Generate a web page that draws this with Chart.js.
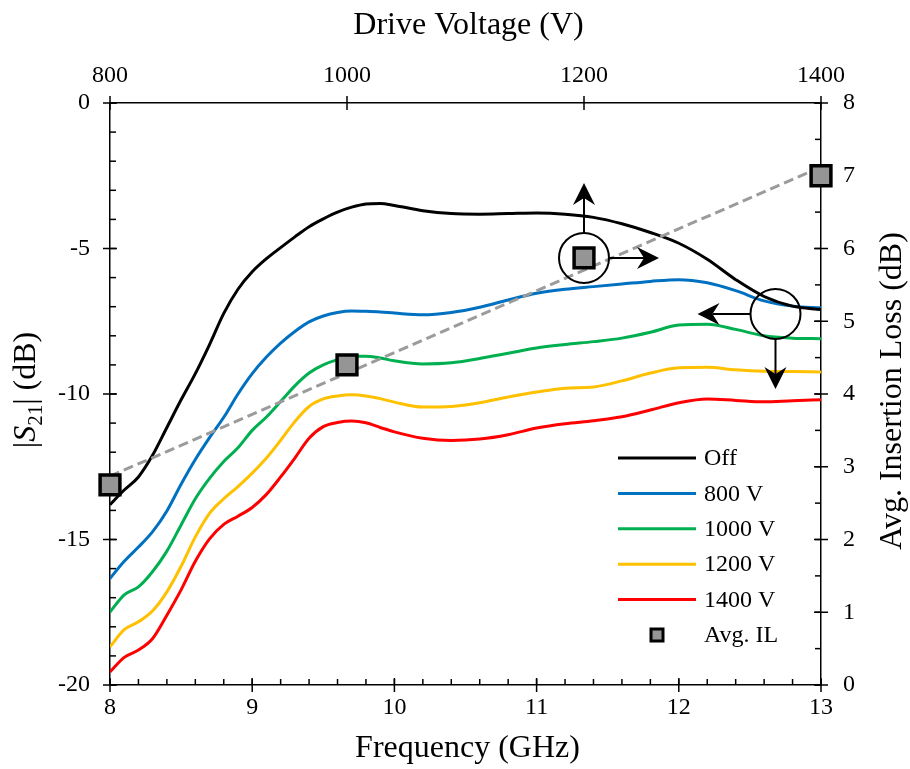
<!DOCTYPE html>
<html>
<head>
<meta charset="utf-8">
<script src="https://cdn.jsdelivr.net/npm/chart.js@4.4.1/dist/chart.umd.min.js"></script>
<style>
  html, body { margin: 0; padding: 0; background: #fff; }
  canvas { display: block; }
</style>
</head>
<body>
<canvas id="chart" width="910" height="769"></canvas>
<script>
// Frequency sweep (GHz) shared by all |S21| traces
const freqGHz = [8.0, 8.1, 8.2, 8.3, 8.4, 8.5, 8.6, 8.7, 8.8, 8.9, 9.0, 9.1, 9.2, 9.3, 9.4,
  9.5, 9.6, 9.7, 9.8, 9.9, 10.0, 10.2, 10.4, 10.6, 10.8, 11.0, 11.2, 11.4, 11.6, 11.8,
  12.0, 12.2, 12.4, 12.6, 12.8, 13.0];

// |S21| in dB for each drive state
const s21Off = [-13.8, -13.3, -12.85, -12.1, -11.15, -10.2, -9.3, -8.3, -7.23, -6.4, -5.8,
  -5.35, -4.97, -4.6, -4.25, -3.98, -3.75, -3.58, -3.47, -3.45, -3.52, -3.7, -3.8, -3.82,
  -3.8, -3.78, -3.82, -3.93, -4.15, -4.45, -4.82, -5.37, -6.07, -6.65, -6.98, -7.1];
const s21V800 = [-16.34, -15.75, -15.26, -14.73, -14.02, -13.1, -12.25, -11.5, -10.8, -10.0,
  -9.3, -8.73, -8.25, -7.85, -7.52, -7.32, -7.2, -7.15, -7.16, -7.18, -7.22, -7.28, -7.2,
  -7.02, -6.77, -6.54, -6.4, -6.31, -6.22, -6.13, -6.07, -6.18, -6.45, -6.8, -6.98, -7.04];
const s21V1000 = [-17.49, -16.9, -16.63, -16.1, -15.4, -14.5, -13.6, -12.9, -12.32, -11.85,
  -11.25, -10.79, -10.26, -9.72, -9.28, -9.0, -8.82, -8.7, -8.7, -8.76, -8.86, -8.97, -8.93,
  -8.78, -8.6, -8.42, -8.3, -8.2, -8.08, -7.88, -7.63, -7.6, -7.78, -8.0, -8.08, -8.1];
const s21V1200 = [-18.69, -18.1, -17.83, -17.45, -16.8, -15.92, -14.91, -14.1, -13.6, -13.18,
  -12.72, -12.2, -11.59, -10.95, -10.43, -10.17, -10.07, -10.03, -10.07, -10.16, -10.28,
  -10.45, -10.43, -10.3, -10.1, -9.93, -9.8, -9.76, -9.55, -9.28, -9.1, -9.08, -9.17,
  -9.22, -9.23, -9.24];
const s21V1400 = [-19.55, -19.05, -18.8, -18.4, -17.6, -16.73, -15.75, -14.98, -14.48, -14.2,
  -13.9, -13.45, -12.85, -12.2, -11.52, -11.12, -10.98, -10.93, -10.99, -11.15, -11.3,
  -11.52, -11.6, -11.55, -11.4, -11.17, -11.02, -10.92, -10.78, -10.55, -10.3, -10.17,
  -10.22, -10.27, -10.23, -10.2];

const seriesNames = ['Off', '800 V', '1000 V', '1200 V', '1400 V'];
const seriesValues = [s21Off, s21V800, s21V1000, s21V1200, s21V1400];

// Average insertion loss versus drive voltage, with its straight-line fit
const driveVoltage = [800, 1000, 1200, 1400];
const avgIL = [2.75, 4.4, 5.87, 7.0];
const ilFitVoltage = [800, 1400];
const ilFitValue = [2.87, 7.12];

// Axis tick labels
const freqTicks = [8, 9, 10, 11, 12, 13];
const s21Ticks = [0, -5, -10, -15, -20];
const voltTicks = [800, 1000, 1200, 1400];
const ilTicks = [0, 1, 2, 3, 4, 5, 6, 7, 8];

// Marker for the state-switch callout on the |S21| plane
const switchCallout = { freq: 12.68, s21: -7.25 };

// ---- styling ----
const SERIF = '"Liberation Serif", "Times New Roman", serif';
const lineColors = ['#000000', '#0070C0', '#00B050', '#FFC000', '#FF0000'];
const markerFill = '#959595';
const fitColor = '#9b9b9b';

const xy = (xs, ys) => xs.map((v, i) => ({ x: v, y: ys[i] }));

const datasets = seriesValues.map((vals, i) => ({
  label: seriesNames[i],
  data: xy(freqGHz, vals),
  xAxisID: 'x', yAxisID: 'y',
  borderColor: lineColors[i],
  borderWidth: 3,
  pointRadius: 0,
  cubicInterpolationMode: 'monotone',
  fill: false,
  order: 2 + i
}));
datasets.push({
  label: 'IL fit',
  data: xy(ilFitVoltage, ilFitValue),
  xAxisID: 'xTop', yAxisID: 'y2',
  borderColor: fitColor,
  borderWidth: 3,
  borderDash: [10, 5],
  pointRadius: 0,
  fill: false,
  order: 1
});
datasets.push({
  label: 'Avg. IL',
  data: xy(driveVoltage, avgIL),
  xAxisID: 'xTop', yAxisID: 'y2',
  showLine: false,
  clip: false,
  pointStyle: 'rect',
  pointRadius: 14,
  pointHoverRadius: 14,
  pointBackgroundColor: markerFill,
  pointBorderColor: '#000',
  pointBorderWidth: 3.5,
  order: 0
});

const tickFont = { family: SERIF, size: 24 };
const fixedTicks = list => axis => { axis.ticks = list.map(v => ({ value: v })); };
const tickOpts = pad => ({ font: tickFont, color: '#000', autoSkip: false, maxRotation: 0,
                           padding: pad, callback: v => String(v) });
const baseScale = (extra) => Object.assign({
  type: 'linear',
  grid: { display: false, drawTicks: false },
  border: { display: true, color: '#000', width: 1.5 }
}, extra);

// Major ticks cross the axis line, minor ticks point into the plot
const tickSpec = {
  x:    { minorStep: 0.2, side: 'bottom' },
  xTop: { minorStep: 0,   side: 'top' },
  y:    { minorStep: 1,   side: 'left' },
  y2:   { minorStep: 0.5, side: 'right' }
};

function drawArrow(ctx, x0, y0, x1, y1) {
  const ang = Math.atan2(y1 - y0, x1 - x0);
  const ux = Math.cos(ang), uy = Math.sin(ang), nx = -uy, ny = ux;
  const L = 22, W = 11, N = 15;
  ctx.beginPath();
  ctx.moveTo(x0, y0);
  ctx.lineTo(x1 - ux * N, y1 - uy * N);
  ctx.stroke();
  ctx.beginPath();
  ctx.moveTo(x1, y1);
  ctx.lineTo(x1 - ux * L + nx * W, y1 - uy * L + ny * W);
  ctx.lineTo(x1 - ux * N, y1 - uy * N);
  ctx.lineTo(x1 - ux * L - nx * W, y1 - uy * L - ny * W);
  ctx.closePath();
  ctx.fill();
}

const decorations = {
  id: 'decorations',
  beforeDatasetsDraw(chart) {
    // Tick marks sit under the data so edge markers cover them
    const ctx = chart.ctx;
    const a = chart.chartArea;
    ctx.save();
    ctx.strokeStyle = '#000';
    ctx.lineWidth = 1.5;
    const seg = (x1, y1, x2, y2) => { ctx.beginPath(); ctx.moveTo(x1, y1); ctx.lineTo(x2, y2); ctx.stroke(); };
    const MAJ = 7, MIN = 6;
    for (const id of Object.keys(tickSpec)) {
      const sc = chart.scales[id];
      const spec = tickSpec[id];
      for (const t of sc.ticks) {
        const p = sc.getPixelForValue(t.value);
        if (spec.side === 'bottom') seg(p, a.bottom - MAJ, p, a.bottom + MAJ);
        if (spec.side === 'top') seg(p, a.top - MAJ, p, a.top + MAJ);
        if (spec.side === 'left') seg(a.left - MAJ, p, a.left + MAJ, p);
        if (spec.side === 'right') seg(a.right - MAJ, p, a.right + MAJ, p);
      }
      if (spec.minorStep > 0) {
        const n = Math.round((sc.max - sc.min) / spec.minorStep);
        for (let k = 0; k <= n; k++) {
          const v = sc.min + k * spec.minorStep;
          const p = sc.getPixelForValue(v);
          if (spec.side === 'bottom') seg(p, a.bottom - MIN, p, a.bottom);
          if (spec.side === 'left') seg(a.left, p, a.left + MIN, p);
          if (spec.side === 'right') seg(a.right - MIN, p, a.right, p);
        }
      }
    }
    ctx.restore();
  },
  afterDatasetsDraw(chart) {
    const ctx = chart.ctx;
    const { x, y, xTop, y2 } = chart.scales;
    const R = 25, ARM = 50;
    ctx.save();
    ctx.strokeStyle = '#000';
    ctx.fillStyle = '#000';
    ctx.lineWidth = 2;
    // Callout around the 1200 V insertion-loss point: up and right arrows
    const c1x = xTop.getPixelForValue(driveVoltage[2]);
    const c1y = y2.getPixelForValue(avgIL[2]);
    ctx.beginPath(); ctx.arc(c1x, c1y, R, 0, Math.PI * 2); ctx.stroke();
    drawArrow(ctx, c1x, c1y - R, c1x, c1y - R - ARM);
    drawArrow(ctx, c1x + R, c1y, c1x + R + ARM, c1y);
    // Callout on the |S21| traces: left and down arrows
    const c2x = x.getPixelForValue(switchCallout.freq);
    const c2y = y.getPixelForValue(switchCallout.s21);
    ctx.beginPath(); ctx.arc(c2x, c2y, R, 0, Math.PI * 2); ctx.stroke();
    drawArrow(ctx, c2x - R, c2y, c2x - R - ARM - 3, c2y);
    drawArrow(ctx, c2x, c2y + R, c2x, c2y + R + ARM);
    ctx.restore();
  },
  afterDraw(chart) {
    const ctx = chart.ctx;
    const a = chart.chartArea;
    ctx.save();
    const seg = (x1, y1, x2, y2) => { ctx.beginPath(); ctx.moveTo(x1, y1); ctx.lineTo(x2, y2); ctx.stroke(); };

    // Axis titles
    ctx.fillStyle = '#000';
    ctx.textBaseline = 'alphabetic';
    ctx.textAlign = 'center';
    ctx.font = '32px ' + SERIF;
    const cx = (a.left + a.right) / 2, cy = (a.top + a.bottom) / 2;
    ctx.fillText('Drive Voltage (V)', cx + 3, 34);
    ctx.fillText('Frequency (GHz)', cx + 2, 757);

    ctx.save();
    ctx.translate(893, cy - 3);
    ctx.rotate(-Math.PI / 2);
    ctx.fillText('Avg. Insertion Loss (dB)', 0, 8);
    ctx.restore();

    // |S21| (dB) with italic S and subscript
    ctx.save();
    ctx.translate(25, cy - 4);
    ctx.rotate(-Math.PI / 2);
    ctx.textAlign = 'left';
    const parts = [
      ['|', '32px ' + SERIF, 0],
      ['S', 'italic 32px ' + SERIF, 0],
      ['21', '21px ' + SERIF, 7],
      ['| (dB)', '32px ' + SERIF, 0]
    ];
    let total = 0;
    for (const p of parts) { ctx.font = p[1]; total += ctx.measureText(p[0]).width; }
    let px = -total / 2;
    for (const p of parts) {
      ctx.font = p[1];
      ctx.fillText(p[0], px, 10 + p[2]);
      px += ctx.measureText(p[0]).width;
    }
    ctx.restore();

    // Legend
    const lx0 = 618, lx1 = 696, tx = 704, ly0 = 458, dy = 35.4;
    ctx.font = '24px ' + SERIF;
    ctx.textAlign = 'left';
    ctx.textBaseline = 'middle';
    seriesNames.forEach((name, i) => {
      const yy = ly0 + i * dy;
      ctx.strokeStyle = lineColors[i];
      ctx.lineWidth = 3;
      seg(lx0, yy, lx1, yy);
      ctx.fillStyle = '#000';
      ctx.fillText(name, tx, yy + 1);
    });
    const my = ly0 + seriesNames.length * dy;
    ctx.fillStyle = markerFill;
    ctx.strokeStyle = '#000';
    ctx.lineWidth = 3;
    ctx.fillRect(651, my - 6, 12, 12);
    ctx.strokeRect(651, my - 6, 12, 12);
    ctx.fillStyle = '#000';
    ctx.fillText('Avg. IL', tx, my + 1);
    ctx.restore();
  }
};

new Chart(document.getElementById('chart'), {
  type: 'line',
  data: { datasets },
  options: {
    responsive: false,
    animation: false,
    events: [],
    layout: { padding: 0 },
    plugins: { legend: { display: false }, tooltip: { enabled: false } },
    scales: {
      x: baseScale({
        position: 'bottom', min: 8, max: 13,
        afterBuildTicks: fixedTicks(freqTicks),
        afterFit: s => { s.height = 84; },
        ticks: tickOpts(8)
      }),
      xTop: baseScale({
        position: 'top', min: 800, max: 1400,
        afterBuildTicks: fixedTicks(voltTicks),
        afterFit: s => { s.height = 103; },
        ticks: tickOpts(13)
      }),
      y: baseScale({
        position: 'left', min: -20, max: 0,
        afterBuildTicks: fixedTicks(s21Ticks),
        afterFit: s => { s.width = 110; },
        ticks: tickOpts(20)
      }),
      y2: baseScale({
        position: 'right', min: 0, max: 8,
        afterBuildTicks: fixedTicks(ilTicks),
        afterFit: s => { s.width = 89; },
        ticks: tickOpts(22)
      })
    }
  },
  plugins: [decorations]
});
</script>
</body>
</html>
